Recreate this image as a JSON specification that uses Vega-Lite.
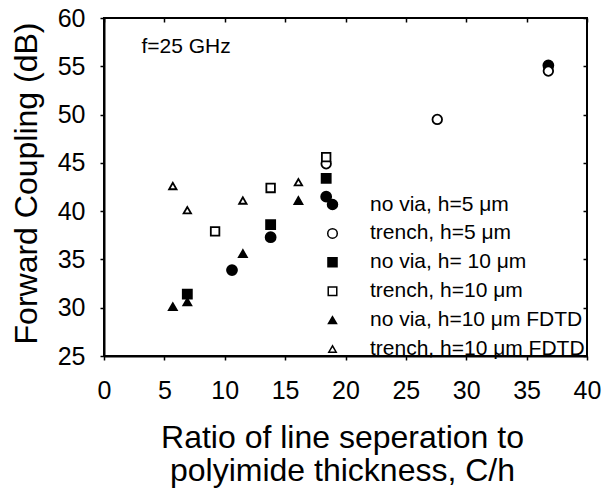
{
  "$schema": "https://vega.github.io/schema/vega-lite/v6.json",
  "width": 483,
  "height": 338,
  "autosize": {"type": "none"},
  "padding": {"left": 104, "top": 18, "right": 16, "bottom": 137},
  "background": "white",
  "config": {
    "font": "Liberation Sans",
    "view": {"stroke": "black", "strokeWidth": 2},
    "axis": {"grid": false, "domainColor": "black", "domainWidth": 2, "tickColor": "black", "tickWidth": 1.5, "labelColor": "black", "titleColor": "black", "labelFont": "Liberation Sans", "titleFont": "Liberation Sans", "titleFontWeight": "normal"},
    "legend": {"orient": "none", "legendX": 218, "legendY": 176, "title": null, "padding": 0, "labelFontSize": 21, "labelFont": "Liberation Sans", "labelColor": "black", "rowPadding": 6.9, "labelOffset": 27, "labelLimit": 400}
  },
  "datasets": {
    "pts": [
      {"s": "no via, h=5 μm", "x": 10.6, "y": 33.9},
      {"s": "no via, h=5 μm", "x": 13.8, "y": 37.3},
      {"s": "no via, h=5 μm", "x": 18.4, "y": 41.5},
      {"s": "no via, h=5 μm", "x": 36.8, "y": 55.1},
      {"s": "trench, h=5 μm", "x": 18.4, "y": 44.9},
      {"s": "trench, h=5 μm", "x": 27.6, "y": 49.5},
      {"s": "trench, h=5 μm", "x": 36.8, "y": 54.5},
      {"s": "no via, h= 10 μm", "x": 6.9, "y": 31.4},
      {"s": "no via, h= 10 μm", "x": 13.8, "y": 38.6},
      {"s": "no via, h= 10 μm", "x": 18.4, "y": 43.4},
      {"s": "trench, h=10 μm", "x": 9.2, "y": 37.9},
      {"s": "trench, h=10 μm", "x": 13.8, "y": 42.4},
      {"s": "trench, h=10 μm", "x": 18.4, "y": 45.6},
      {"s": "no via, h=10 μm FDTD", "x": 5.7, "y": 30.1},
      {"s": "no via, h=10 μm FDTD", "x": 6.9, "y": 30.6},
      {"s": "no via, h=10 μm FDTD", "x": 11.5, "y": 35.6},
      {"s": "no via, h=10 μm FDTD", "x": 16.1, "y": 41.1},
      {"s": "trench, h=10 μm FDTD", "x": 5.7, "y": 42.6},
      {"s": "trench, h=10 μm FDTD", "x": 6.9, "y": 40.1},
      {"s": "trench, h=10 μm FDTD", "x": 11.5, "y": 41.1},
      {"s": "trench, h=10 μm FDTD", "x": 16.1, "y": 43.0}
    ],
    "note": [{"label": "f=25 GHz", "x": 3.1, "y": 56.34}]
  },
  "layer": [
    {
      "data": {"name": "pts"},
      "mark": {"type": "point", "filled": false, "stroke": "black", "strokeWidth": 1.8, "opacity": 1},
      "encoding": {
        "x": {"field": "x", "type": "quantitative",
          "scale": {"domain": [0, 40], "nice": false},
          "axis": {"orient": "bottom", "values": [0,5,10,15,20,25,30,35,40], "tickSize": 4, "labelFontSize": 25, "labelPadding": 18, "labelFlush": false,
            "title": ["Ratio of line seperation to", "polyimide thickness, C/h"], "titleFontSize": 32, "titleLineHeight": 33, "titleBaseline": "alphabetic", "titleY": 91, "titleX": 238, "titleAnchor": "middle"}},
        "y": {"field": "y", "type": "quantitative",
          "scale": {"domain": [25, 60], "nice": false},
          "axis": {"orient": "left", "values": [25,30,35,40,45,50,55,60], "tickSize": 4, "labelFontSize": 25, "labelPadding": 15, "labelFlush": false,
            "title": "Forward Coupling (dB)", "titleFontSize": 32, "titleBaseline": "alphabetic", "titleAngle": -90, "titleX": -67.5, "titleY": 165, "titleAlign": "center"}},
        "size": {"field": "s", "type": "nominal",
          "scale": {"domain": ["no via, h=5 μm", "trench, h=5 μm", "no via, h= 10 μm", "trench, h=10 μm", "no via, h=10 μm FDTD", "trench, h=10 μm FDTD"],
            "range": [100, 55, 65, 55, 120, 100]},
          "legend": {"encode": {"symbols": {"update": {"stroke": {"value": "black"}, "strokeWidth": {"value": 1.8}, "opacity": {"value": 1}}}}}},
        "shape": {"field": "s", "type": "nominal",
          "scale": {"domain": ["no via, h=5 μm", "trench, h=5 μm", "no via, h= 10 μm", "trench, h=10 μm", "no via, h=10 μm FDTD", "trench, h=10 μm FDTD"],
            "range": ["circle", "circle", "square", "square", "triangle-up", "triangle-up"]},
          "legend": {"encode": {"symbols": {"update": {"stroke": {"value": "black"}, "strokeWidth": {"value": 1.8}, "opacity": {"value": 1}}}}}},
        "fill": {"field": "s", "type": "nominal",
          "scale": {"domain": ["no via, h=5 μm", "trench, h=5 μm", "no via, h= 10 μm", "trench, h=10 μm", "no via, h=10 μm FDTD", "trench, h=10 μm FDTD"],
            "range": ["black", "white", "black", "white", "black", "white"]},
          "legend": {"encode": {"symbols": {"update": {"stroke": {"value": "black"}, "strokeWidth": {"value": 1.8}, "opacity": {"value": 1}}}}}}
      }
    },
    {
      "data": {"name": "note"},
      "mark": {"type": "text", "align": "left", "baseline": "alphabetic", "fontSize": 21, "font": "Liberation Sans", "color": "black"},
      "encoding": {
        "x": {"field": "x", "type": "quantitative", "scale": {"domain": [0, 40], "nice": false},
          "axis": {"orient": "top", "values": [0,5,10,15,20,25,30,35,40], "tickSize": -4, "labels": false, "title": null, "domain": false}},
        "y": {"field": "y", "type": "quantitative", "scale": {"domain": [25, 60], "nice": false},
          "axis": {"orient": "right", "values": [25,30,35,40,45,50,55,60], "tickSize": -4, "labels": false, "title": null, "domain": false}},
        "text": {"field": "label"}
      }
    }
  ],
  "resolve": {"axis": {"x": "independent", "y": "independent"}}
}
